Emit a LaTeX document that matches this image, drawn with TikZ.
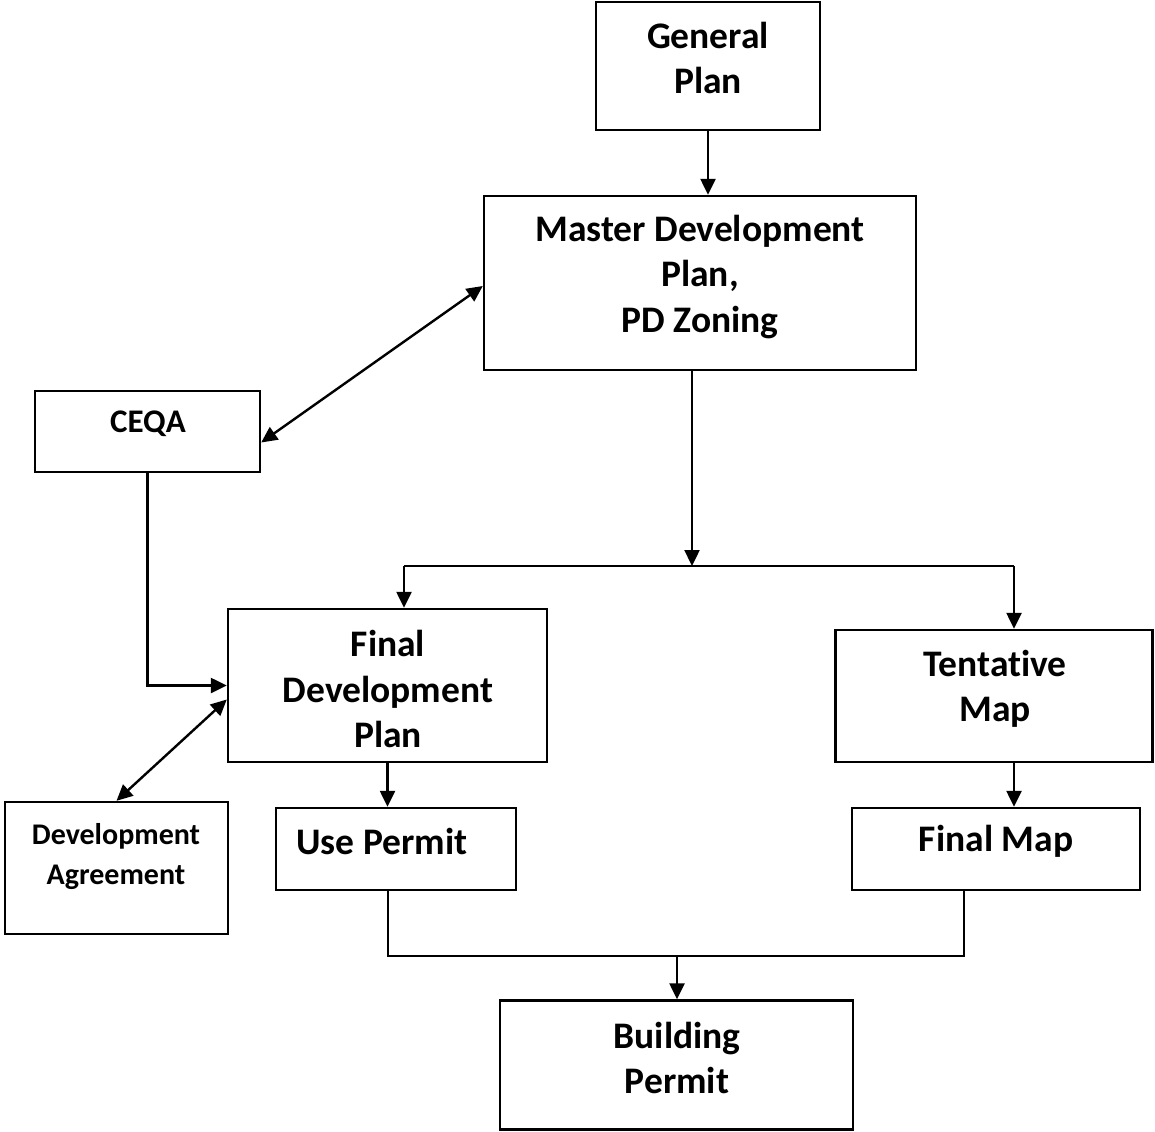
\documentclass[tikz,border=0pt]{standalone}
\usepackage{fontspec}
\setmainfont[Ligatures=NoCommon]{Carlito}
\usetikzlibrary{arrows.meta,calc}
\begin{document}
\begin{tikzpicture}[x=1pt,y=-1pt,
  box/.style={draw,line width=2.4pt,rectangle,inner sep=0pt},
  big/.style={align=center,font=\fontsize{37.5}{45.5}\selectfont\bfseries},
  small/.style={align=center,font=\fontsize{30}{40}\selectfont\bfseries},
  ceqafont/.style={align=center,font=\fontsize{33}{40}\selectfont\bfseries},
  conn/.style={line width=2.4pt},
  arr/.style={conn,-{Triangle[length=16pt,width=15pt]}},
  darr/.style={conn,{Triangle[length=16pt,width=15pt]}-{Triangle[length=16pt,width=15pt]}}]
\useasboundingbox (0,0) rectangle (1155,1131);
% boxes
\node[box,minimum width=224pt,minimum height=128pt] (gp) at (708,66) {};
\node[box,minimum width=432pt,minimum height=174pt] (md) at (700,283) {};
\node[box,minimum width=225pt,minimum height=81pt] (ceqa) at (147.5,431.5) {};
\node[box,minimum width=319pt,minimum height=153pt] (fdp) at (387.5,685.5) {};
\node[box,minimum width=317pt,minimum height=132pt] (tm) at (994,696) {};
\node[box,minimum width=223pt,minimum height=132pt] (da) at (116.5,868) {};
\node[box,minimum width=240pt,minimum height=82pt] (up) at (396,849) {};
\node[box,minimum width=288pt,minimum height=82pt] (fm) at (996,849) {};
\node[box,minimum width=353pt,minimum height=129pt] (bp) at (676.5,1065) {};
% texts
\node[big] (tgp) at (708,58) {General\\Plan};
\node[big] (tmd) at (700,277) {Master Development\\Plan,\\PD Zoning};
\node[ceqafont] (tceqa) at (148,424) {CEQA};
\node[big] (tfdp) at (388,689) {Final\\Development\\Plan};
\node[big] (ttm) at (995,689) {Tentative\\Map};
\node[small] (tda) at (116,857) {Development\\Agreement};
\node[big] (tup) at (382,841) {Use Permit};
\node[big] (tfm) at (996,841) {Final Map};
\node[big] (tbp) at (677,1058) {Building\\Permit};
% coordinates
\coordinate (split) at (692,566);
\coordinate (sl) at (404,566);
\coordinate (sr) at (1014,566);
\coordinate (tmx) at (1014,762);
\coordinate (upb) at (388,890);
\coordinate (fmb) at (964,890);
\coordinate (jl) at (388,956);
\coordinate (jr) at (964,956);
\coordinate (jm) at (677,956);
% connectors
\draw[arr] (gp.south) -- (gp.south |- md.north);
\draw[darr] ([yshift=-3pt]md.west) -- ([yshift=-11pt]ceqa.east);
\draw[arr] (md.south -| split) -- (split);
\draw[conn] (sl) -- (sr);
\draw[arr] (sl) -- (sl |- fdp.north);
\draw[arr] (sr) -- (sr |- tm.north);
\draw[arr] (ceqa.south) |- (fdp.west);
\draw[darr] ([yshift=-14pt]fdp.west) -- (da.north);
\draw[arr] (fdp.south) -- (fdp.south |- up.north);
\draw[arr] (tmx) -- (tmx |- fm.north);
\draw[conn] (upb) -- (jl) -- (jr) -- (fmb);
\draw[arr] (jm) -- (jm |- bp.north);
\end{tikzpicture}
\end{document}
